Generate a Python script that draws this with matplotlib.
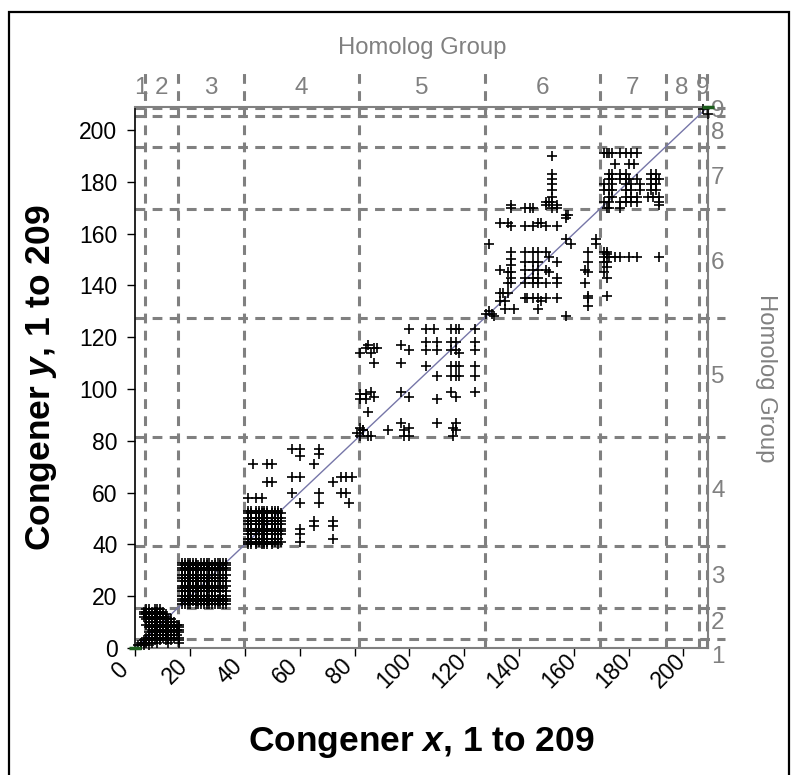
import matplotlib
matplotlib.use('Agg')
import matplotlib.pyplot as plt
from matplotlib.patches import Rectangle
from matplotlib.transforms import ScaledTranslation

plt.rcParams['font.family'] = ['Liberation Sans', 'DejaVu Sans']
plt.rcParams['mathtext.fontset'] = 'custom'
plt.rcParams['mathtext.rm'] = 'Liberation Sans'
plt.rcParams['mathtext.bf'] = 'Liberation Sans:bold'
plt.rcParams['mathtext.bfit'] = 'Liberation Sans:bold:italic'

# ---- homolog groups ----
boundaries = [3.5, 15.5, 39.5, 81.5, 127.5, 169.5, 193.5, 205.5, 208.5]
group_labels = ['1', '2', '3', '4', '5', '6', '7', '8', '9']
top_label_pos = [2, 9.5, 27.5, 60.5, 104.5, 148.5, 181.5, 199.5, 207]
right_label_pos = [-3.5, 9.5, 27.5, 60.5, 104.5, 148.5, 181.5, 198.8, 207.5]
xtick_vals = [0, 20, 40, 60, 80, 100, 120, 140, 160, 180, 200]
ytick_vals = [0, 20, 40, 60, 80, 100, 120, 140, 160, 180, 200]

# ---- congener pairs (x, y) ----
g12_rows = [
    (15, [4, 5, 7, 8, 9]),
    (14, [3, 4, 5, 6, 7, 8, 9, 10]),
    (13, [3, 4, 6, 7, 8, 9, 10, 11]),
    (12, [3, 5, 6, 7, 8, 9, 10, 11]),
    (11, [4, 5, 6, 7, 8, 9, 10, 11, 12, 13]),
    (10, [5, 6, 7, 8, 9, 10, 11, 12, 13, 14]),
    (9, [4, 6, 7, 8, 9, 10, 11, 12, 13, 15, 16]),
    (8, [5, 6, 7, 8, 9, 10, 11, 12, 13, 14, 16]),
    (7, [6, 7, 8, 9, 10, 11, 12, 13, 15, 16]),
    (6, [5, 6, 7, 8, 9, 10, 11, 12, 14, 16]),
    (5, [5, 6, 7, 9, 10, 11, 12, 13, 15]),
    (4, [4, 5, 6, 8, 9, 10, 12, 14, 16]),
    (3, [3, 4, 5, 7, 9, 11, 13, 16]),
    (2, [2, 3, 4, 6, 8, 12, 16]),
    (1, [1, 2, 3, 5]),
]
g3_rows = [
    (33, [17, 18, 19, 20, 21, 22, 24, 25, 26, 27, 29, 30, 31, 32, 33]),
    (32, [17, 18, 19, 20, 21, 22, 23, 25, 26, 28, 29, 31, 33]),
    (31, [17, 18, 19, 20, 21, 23, 24, 26, 27, 28, 30, 31, 32, 33]),
    (30, [17, 18, 19, 20, 21, 22, 24, 25, 27, 28, 29, 31, 33]),
    (28, [17, 18, 19, 20, 22, 23, 24, 25, 27, 28, 31, 33]),
    (27, [17, 18, 19, 20, 21, 22, 24, 25, 26, 27, 29, 30, 32]),
    (26, [17, 18, 19, 20, 21, 22, 23, 25, 26, 28, 29, 31, 33]),
    (24, [17, 18, 19, 20, 22, 23, 25, 26, 27, 29, 31, 33]),
    (23, [17, 18, 19, 20, 21, 22, 23, 24, 26, 27, 28, 30, 32]),
    (22, [17, 18, 19, 20, 21, 23, 24, 25, 26, 28, 29, 31, 33]),
    (20, [17, 18, 19, 20, 21, 22, 23, 24, 26, 27, 28, 29, 31, 33]),
    (19, [17, 18, 19, 20, 21, 22, 24, 25, 26, 27, 28, 30, 32, 33]),
    (18, [17, 18, 19, 20, 21, 22, 23, 24, 25, 26, 27, 28, 29, 30, 31, 32, 33]),
    (17, [17, 18, 19, 20, 22, 23, 24, 25, 26, 27, 28, 29, 30, 31, 32, 33]),
]
g4_rows = [
    (53, [41, 42, 44, 45, 46, 47, 48, 50, 51, 52]),
    (52, [41, 42, 44, 45, 46, 47, 48, 50, 51, 52, 53]),
    (50, [41, 42, 44, 45, 46, 47, 48, 50, 51, 52, 53]),
    (49, [41, 42, 44, 45, 46, 48, 50, 51, 53]),
    (48, [41, 42, 44, 45, 46, 47, 48, 50, 51, 52, 53]),
    (46, [41, 42, 44, 45, 47, 48, 50, 51, 53]),
    (45, [41, 42, 44, 45, 46, 47, 48, 50, 51, 52, 53]),
    (44, [41, 42, 44, 46, 47, 48, 50, 52, 53]),
    (42, [41, 42, 44, 45, 46, 47, 48, 50, 51, 52]),
    (41, [41, 42, 44, 45, 47, 48, 50, 51, 53]),
    (40, [41, 42, 44, 46, 47, 48, 50, 52]),
]
g4_x = [57, 60, 60, 67, 67, 65, 43, 48, 50, 48, 50, 57, 60, 72, 75, 77, 79,
        41, 44, 46, 57, 67, 75, 77, 60, 67, 78, 65, 65, 72, 72, 60, 60, 60, 72]
g4_y = [77, 77, 74, 77, 75, 71, 71, 71, 71, 64, 64, 66, 66, 64, 66, 66, 66,
        58, 58, 58, 60, 60, 60, 60, 56, 56, 56, 49, 47, 49, 47, 46, 44, 41, 42]
g5_x = [100, 106, 109, 115, 117, 118, 124,
        97, 100, 106, 106, 110, 110, 115, 117, 115, 117, 118, 124, 124,
        82, 84, 85, 86, 87, 88,
        87, 97, 106, 110, 115, 117, 118, 115, 117, 118, 124, 124,
        82, 84, 86, 82, 84, 87, 97, 100, 110, 115, 117, 124,
        85,
        82, 83, 85, 86, 92, 97, 98, 100, 98, 100, 110, 117, 116, 117, 116,
        81, 82, 83]
g5_y = [123, 123, 123, 123, 123, 123, 123,
        117, 115, 118, 115, 118, 115, 118, 118, 115, 115, 114, 118, 115,
        114, 116, 117, 114, 116, 116,
        110, 110, 109, 105, 109, 109, 109, 105, 105, 105, 109, 105,
        98, 98, 99, 96, 96, 97, 99, 97, 96, 99, 97, 99,
        91,
        85, 84, 82, 82, 84, 87, 84, 85, 82, 82, 87, 87, 85, 84, 82,
        83, 82, 84]
g6_x = [152, 152, 152, 152, 152, 152, 152,
        150, 150, 151, 152, 154, 154,
        137, 137, 142, 144, 145,
        157, 158, 157,
        133, 136, 137, 142, 145, 147, 148, 150, 154,
        129, 157, 159, 168, 168,
        165, 165, 164, 165, 164, 165, 165, 165,
        137, 137, 137, 137, 137, 137, 133, 136, 136,
        142, 142, 142, 142, 142, 145, 145, 145, 145, 145, 147, 147, 147, 147, 147,
        150, 151, 150, 151, 150, 154, 154, 154,
        142, 143, 145, 147, 148, 150, 154,
        133, 134, 136, 133, 135, 135, 138, 147,
        128, 129, 130, 131, 157,
        171, 172, 171, 173, 171, 172, 172, 172, 172,
        175, 177, 180, 183, 191, 171, 172]
g6_y = [190, 183, 181, 179, 177, 174, 172,
        172, 171, 172, 170, 171, 170,
        171, 170, 170, 170, 170,
        167, 167, 166,
        164, 164, 163, 163, 163, 164, 164, 163, 163,
        156, 158, 156, 158, 156,
        153, 149, 146, 145, 141, 136, 135, 132,
        153, 150, 148, 145, 143, 141, 146, 145, 141,
        153, 149, 146, 143, 141, 153, 149, 146, 143, 141, 153, 149, 146, 143, 141,
        153, 151, 146, 145, 141, 149, 143, 141,
        135, 135, 135, 135, 134, 135, 135,
        137, 137, 137, 134, 134, 131, 131, 131,
        129, 130, 129, 128, 128,
        153, 153, 151, 151, 149, 149, 143, 147, 136,
        151, 151, 151, 151, 151, 145, 152]
g7_rows = [
    (191, [171, 172, 173, 174, 177, 179, 181, 183]),
    (187, [175, 180, 182]),
    (183, [173, 174, 177, 179, 188, 190]),
    (181, [173, 174, 177, 179, 180, 183, 188, 190, 191]),
    (179, [171, 174, 179, 181, 184, 188, 190]),
    (177, [171, 173, 174, 179, 181, 184, 188, 190]),
    (174, [173, 174, 179, 181, 183, 187, 189, 191]),
    (172, [171, 173, 177, 179, 181, 183, 191]),
    (171, [191]),
    (170, [172, 173, 177]),
]
g8_x = [207, 209]
g8_y = [208, 206]

# collect points
px, py = [], []
for rows in (g12_rows, g3_rows, g4_rows, g7_rows):
    for yv, xs in rows:
        px.extend(xs)
        py.extend([yv] * len(xs))
for xs, ys in ((g4_x, g4_y), (g5_x, g5_y), (g6_x, g6_y), (g8_x, g8_y)):
    px.extend(xs)
    py.extend(ys)

GRAY = '#808080'
TICK_FS = 16.5

fig = plt.figure(figsize=(7.96, 7.75), dpi=100)
ax = fig.add_axes([0.1702, 0.1639, 0.7194, 0.6985])
ax.set_xlim(0, 209)
ax.set_ylim(0, 209)

dash = (0, (3.2, 2.4))
for b in boundaries:
    ax.plot([b, b], [0, 224], color=GRAY, lw=2.2, ls=dash, clip_on=False, zorder=1)
    ax.plot([0, 215], [b, b], color=GRAY, lw=2.2, ls=dash, clip_on=False, zorder=1)

ax.plot([0, 209], [0, 209], color='#7676a8', lw=1.0, zorder=2)
ax.plot(px, py, ls='none', marker='+', ms=7.5, mew=1.2, color='black',
        zorder=3, clip_on=False)
ax.plot([0, 209], [0, 209], ls='none', marker='_', ms=9, mew=2.5,
        color='#1d5e1d', zorder=4, clip_on=False)

for s in ('top', 'right', 'bottom'):
    ax.spines[s].set_color(GRAY)
    ax.spines[s].set_linewidth(1.5)
ax.spines['left'].set_color('black')
ax.spines['left'].set_linewidth(1.2)

ax.set_xticks(xtick_vals)
ax.set_yticks(ytick_vals)
ax.set_yticklabels([str(v) for v in ytick_vals], fontsize=TICK_FS)
ax.set_xticklabels([])
ax.tick_params(axis='both', direction='out', length=6, width=1, color='black')
ax.tick_params(axis='y', pad=7)

xlab_tr = ax.get_xaxis_transform() + ScaledTranslation(-15 / 100, -23 / 100,
                                                       fig.dpi_scale_trans)
for v in xtick_vals:
    ax.text(v, 0, str(v), transform=xlab_tr, rotation=45, ha='center',
            va='center', rotation_mode='anchor', fontsize=TICK_FS,
            clip_on=False)

for lab, pos in zip(group_labels, top_label_pos):
    ax.text(pos, 216.2, lab, ha='center', va='center', fontsize=17.5,
            color=GRAY, clip_on=False)
for lab, pos in zip(group_labels, right_label_pos):
    ax.text(212.6, pos, lab, ha='center', va='center', fontsize=17.5,
            color=GRAY, clip_on=False)

fig.text(422 / 796, 1 - 48 / 775, 'Homolog Group', ha='center', va='center',
         fontsize=17.2, color=GRAY)
fig.text(766 / 796, 1 - 378 / 775, 'Homolog Group', ha='center', va='center',
         fontsize=17.2, color=GRAY, rotation=-90)
fig.text(421 / 796, 1 - 742 / 775, r'Congener $\mathbfit{x}$, 1 to 209',
         ha='center', va='center', fontsize=25.5, fontweight='bold')
fig.text(42 / 796, 1 - 378 / 775, r'Congener $\mathbfit{y}$, 1 to 209',
         ha='center', va='center', fontsize=25.5, fontweight='bold',
         rotation=90)

fig.patches.append(Rectangle((9 / 796, -0.02), 780 / 796, 1 - 12 / 775 + 0.02,
                             transform=fig.transFigure, fill=False,
                             ec='black', lw=1.6))

fig.savefig('out.png', dpi=100)
